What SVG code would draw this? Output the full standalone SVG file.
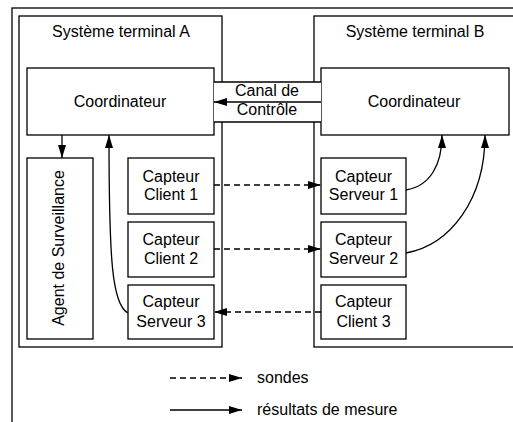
<svg xmlns="http://www.w3.org/2000/svg" width="513" height="422" viewBox="0 0 513 422">
<style>
.box{fill:#fff;stroke:#000;stroke-width:1.3}
.frame{fill:none;stroke:#000;stroke-width:1.3}
.t{font-family:"Liberation Sans",Arial,sans-serif;font-size:16px;fill:#000}
.c{text-anchor:middle}
.ln{fill:none;stroke:#000;stroke-width:1.3}
.d{stroke-dasharray:6,4}
</style>
<defs>
<marker id="ah" markerUnits="userSpaceOnUse" markerWidth="14" markerHeight="10" refX="13" refY="4" orient="auto">
<path d="M0,0 L13,4 L0,8 Z" fill="#000"/>
</marker>
</defs>
<rect class="frame" x="12" y="8" width="530" height="440"/>
<g id="systemeA">
<rect class="box" x="19" y="16" width="203" height="331"/>
<text class="t c" x="121" y="37">Système terminal A</text>
</g>
<g id="systemeB">
<rect class="box" x="314" y="16" width="230" height="331"/>
<text class="t c" x="415" y="37">Système terminal B</text>
</g>
<g id="coordA">
<rect class="box" x="27" y="68" width="187" height="67"/>
<text class="t c" x="120" y="107">Coordinateur</text>
</g>
<g id="coordB">
<rect class="box" x="321" y="68" width="188" height="67"/>
<text class="t c" x="414" y="107">Coordinateur</text>
</g>
<g id="canal">
<rect x="214" y="82" width="107" height="40" fill="#fff"/>
<line class="ln" x1="214" y1="82" x2="321" y2="82"/>
<line class="ln" x1="214" y1="122" x2="321" y2="122"/>
<text class="t c" x="267" y="96">Canal de</text>
<text class="t c" x="267" y="115">Contrôle</text>
</g>
<g id="agent">
<rect class="box" x="27" y="158" width="66" height="181"/>
<text class="t c" transform="translate(64,248) rotate(-90)">Agent de Surveillance</text>
</g>
<g id="client1">
<rect class="box" x="128" y="158" width="86" height="56"/>
<text class="t c" x="171" y="182">Capteur</text>
<text class="t c" x="171" y="200">Client 1</text>
</g>
<g id="client2">
<rect class="box" x="128" y="222" width="86" height="55"/>
<text class="t c" x="171" y="245">Capteur</text>
<text class="t c" x="171" y="264">Client 2</text>
</g>
<g id="serveur3">
<rect class="box" x="128" y="285" width="86" height="54"/>
<text class="t c" x="171" y="307">Capteur</text>
<text class="t c" x="171" y="327">Serveur 3</text>
</g>
<g id="serveur1">
<rect class="box" x="321" y="158" width="85" height="56"/>
<text class="t c" x="363.5" y="182">Capteur</text>
<text class="t c" x="363.5" y="200">Serveur 1</text>
</g>
<g id="serveur2">
<rect class="box" x="321" y="222" width="85" height="55"/>
<text class="t c" x="363.5" y="245">Capteur</text>
<text class="t c" x="363.5" y="264">Serveur 2</text>
</g>
<g id="client3">
<rect class="box" x="321" y="285" width="85" height="54"/>
<text class="t c" x="363.5" y="307">Capteur</text>
<text class="t c" x="363.5" y="327">Client 3</text>
</g>
<g id="connectors">
<line class="ln" x1="321" y1="102" x2="214" y2="102" marker-end="url(#ah)"/>
<line class="ln" x1="62" y1="135" x2="62" y2="158" marker-end="url(#ah)"/>
<path class="ln" d="M128,313 C112,305 109,260 109,135" marker-end="url(#ah)"/>
<line class="ln d" x1="214" y1="185" x2="321" y2="185" marker-end="url(#ah)"/>
<line class="ln d" x1="214" y1="249" x2="321" y2="249" marker-end="url(#ah)"/>
<line class="ln d" x1="321" y1="312" x2="214" y2="312" marker-end="url(#ah)"/>
<path class="ln" d="M406,190 C430,186 442,165 442,135" marker-end="url(#ah)"/>
<path class="ln" d="M406,253 C450,245 485,200 485,135" marker-end="url(#ah)"/>
</g>
<g id="legende">
<line class="ln d" x1="170" y1="378" x2="242" y2="378" marker-end="url(#ah)"/>
<text class="t" x="257" y="383">sondes</text>
<line class="ln" x1="170" y1="410" x2="242" y2="410" marker-end="url(#ah)"/>
<text class="t" x="257" y="415">résultats de mesure</text>
</g>
</svg>
